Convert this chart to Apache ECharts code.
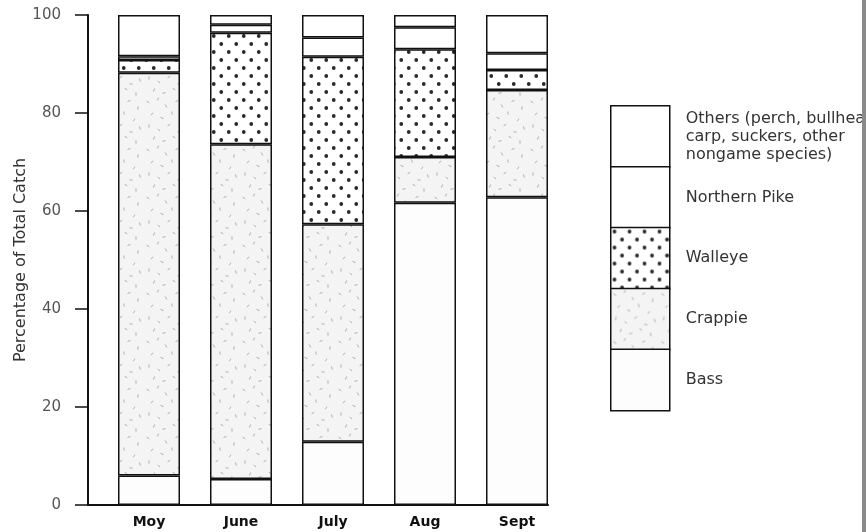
<!DOCTYPE html>
<html>
<head>
<meta charset="utf-8">
<script src="https://cdn.jsdelivr.net/npm/echarts@6/dist/echarts.min.js"></script>
<style>html,body{margin:0;padding:0;background:#fff;}#c{width:866px;height:532px;}</style>
</head>
<body>
<div id="c"></div>
<script>
const categories = ['Moy', 'June', 'July', 'Aug', 'Sept'];
const bass    = [6.0, 5.3, 12.9, 61.7, 62.8];
const crappie = [82.2, 68.3, 44.4, 9.3, 21.9];
const walleye = [2.6, 22.8, 34.2, 22.0, 4.1];
const pike    = [0.8, 1.6, 3.9, 4.5, 3.4];
const others  = [8.4, 2.0, 4.6, 2.5, 7.8];
const seriesNames = ['Bass', 'Crappie', 'Walleye', 'Northern Pike', 'Others (perch, bullheads,\ncarp, suckers, other\nnongame species)'];
const yMin = 0, yMax = 100, yStep = 20;

// texture tiles
function dotTile() {
  const c = document.createElement('canvas');
  c.width = 15; c.height = 16;
  const g = c.getContext('2d');
  g.fillStyle = '#fff'; g.fillRect(0, 0, 15, 16);
  g.fillStyle = '#2a2a2a';
  [[3.75, 4], [11.25, 12]].forEach(p => { g.beginPath(); g.arc(p[0], p[1], 1.9, 0, Math.PI * 2); g.fill(); });
  return c;
}
function dashTile() {
  const c = document.createElement('canvas');
  c.width = 48; c.height = 48;
  const g = c.getContext('2d');
  g.fillStyle = '#f4f4f4'; g.fillRect(0, 0, 48, 48);
  g.strokeStyle = '#9a9a9a'; g.lineWidth = 0.8;
  const dashes = [[4,6,30],[14,3,120],[22,10,60],[33,5,160],[42,12,100],[8,18,140],[18,22,20],[28,17,75],[38,24,130],[5,30,95],[15,34,45],[25,29,150],[35,36,10],[44,32,70],[10,42,110],[20,45,165],[30,41,35],[40,46,85]];
  dashes.forEach(d => {
    const a = d[2] * Math.PI / 180, l = 1.6;
    g.beginPath();
    g.moveTo(d[0] - Math.cos(a) * l, d[1] - Math.sin(a) * l);
    g.lineTo(d[0] + Math.cos(a) * l, d[1] + Math.sin(a) * l);
    g.stroke();
  });
  return c;
}
const fills = [
  '#fdfdfd',
  { image: dashTile(), repeat: 'repeat' },
  { image: dotTile(), repeat: 'repeat' },
  '#ffffff',
  '#ffffff'
];
const values = [bass, crappie, walleye, pike, others];

const FONT = 'DejaVu Sans';
const legendData = seriesNames.slice().reverse();

const chart = echarts.init(document.getElementById('c'), null, { renderer: 'canvas' });
chart.setOption({
  animation: false,
  backgroundColor: '#ffffff',
  grid: [
    { left: 88, width: 460, top: 15, bottom: 27, containLabel: false, outerBoundsMode: 'none' },
    { left: 103, width: 460, top: 15, bottom: 27, containLabel: false, outerBoundsMode: 'none' }
  ],
  xAxis: [
    { type: 'value', gridIndex: 0, min: 0, max: 1,
      axisLine: { show: true, lineStyle: { color: '#111', width: 2 } },
      axisTick: { show: false }, axisLabel: { show: false }, splitLine: { show: false } },
    { type: 'category', gridIndex: 1, data: categories,
      axisLine: { show: false }, axisTick: { show: false },
      axisLabel: { margin: 10, fontFamily: FONT, fontSize: 14, fontWeight: 'bold', color: '#111' } }
  ],
  yAxis: [
    { type: 'value', gridIndex: 0, min: yMin, max: yMax, interval: yStep,
      name: 'Percentage of Total Catch', nameLocation: 'middle', nameGap: 59, nameMoveOverlap: false,
      nameTextStyle: { fontFamily: FONT, fontSize: 16, color: '#333' },
      axisLine: { show: true, lineStyle: { color: '#111', width: 2 } },
      axisTick: { show: true, inside: false, length: 13, lineStyle: { color: '#111', width: 1.5 } },
      axisLabel: { margin: 27, fontFamily: FONT, fontSize: 15, color: '#555' },
      splitLine: { show: false } },
    { type: 'value', gridIndex: 1, min: yMin, max: yMax, show: false, splitLine: { show: false } }
  ],
  legend: {
    orient: 'vertical', left: 610, top: 105, padding: 0,
    icon: 'rect', itemWidth: 59, itemHeight: 61.4, itemGap: -2,
    data: legendData,
    selectedMode: false,
    itemStyle: { borderColor: '#111', borderWidth: 1.5 },
    textStyle: { fontFamily: FONT, fontSize: 16, color: '#333', lineHeight: 18, padding: [0, 0, 0, 11] }
  },
  series: seriesNames.map((n, i) => ({
    name: n, type: 'bar', stack: 'total', xAxisIndex: 1, yAxisIndex: 1,
    barWidth: 62, data: values[i],
    itemStyle: { color: fills[i], borderColor: '#111', borderWidth: 1.5 },
    emphasis: { disabled: true }
  })),
  graphic: [
    { type: 'rect', z: 100, shape: { x: 862, y: 0, width: 4, height: 532 }, style: { fill: '#8a8a8a' } }
  ]
});
</script>
</body>
</html>
